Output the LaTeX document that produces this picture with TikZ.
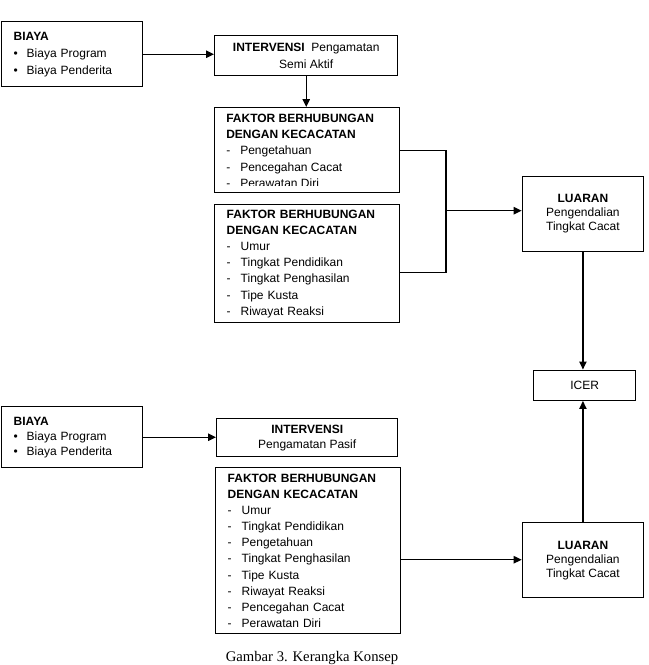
\documentclass[tikz,border=0pt]{standalone}
\usepackage{fontspec}
\setmainfont{Liberation Sans}
\newfontfamily\capfont{Liberation Serif}
\usetikzlibrary{arrows.meta,positioning}
\newcommand{\butir}[1]{\makebox[9.75pt][l]{\textbullet}#1}
\newcommand{\strip}[1]{\makebox[10.5pt][l]{-}#1}
\tikzset{
  kotak/.style={draw,line width=1.1pt,anchor=north west,inner ysep=0pt,inner xsep=9pt,align=left},
  kotakc/.style={draw,line width=1.1pt,anchor=north west,inner sep=0pt,align=center},
  panah/.style={-{Triangle[length=6pt,width=5.5pt]},line width=1.1pt},
  garis/.style={line width=1.1pt},
}

\begin{document}
\begin{tikzpicture}[x=0.75pt,y=-0.75pt]
\useasboundingbox (0,0) rectangle (649,665);
\node[kotak,text width=87.75pt,minimum width=105.75pt,minimum height=48.75pt,font=\fontsize{9}{12.75}\selectfont] (biaya1) at (1,21) {\textbf{BIAYA}\\\butir{Biaya Program}\\\butir{Biaya Penderita}};
\node[kotakc,minimum width=137.25pt,minimum height=30pt,font=\fontsize{9}{12.75}\selectfont] (interv1) at (214,35) {\textbf{INTERVENSI}\ \ Pengamatan\\Semi Aktif};
\node[kotak,minimum width=138.75pt,minimum height=63.75pt] (faktor1) at (214,107) {};
\begin{scope}
\clip (214,107) rectangle (399,185);
\node[anchor=north west,inner sep=0pt,align=left,font=\fontsize{9}{12.2}\selectfont] (isi1) at (226,113.7) {\textbf{FAKTOR BERHUBUNGAN}\\\textbf{DENGAN KECACATAN}\\\strip{Pengetahuan}\\\strip{Pencegahan Cacat}\\\strip{Perawatan Diri}};
\end{scope}
\node[kotak,text width=120.75pt,minimum width=138.75pt,minimum height=88.5pt,font=\fontsize{9}{12.15}\selectfont] (faktor2) at (214,204) {\textbf{FAKTOR BERHUBUNGAN}\\\textbf{DENGAN KECACATAN}\\\strip{Umur}\\\strip{Tingkat Pendidikan}\\\strip{Tingkat Penghasilan}\\\strip{Tipe Kusta}\\\strip{Riwayat Reaksi}};
\node[kotakc,minimum width=90.75pt,minimum height=56.25pt,font=\fontsize{9}{10.5}\selectfont] (luaran1) at (521.7,175.7) {\textbf{LUARAN}\\Pengendalian\\Tingkat Cacat};
\node[kotakc,minimum width=76.5pt,minimum height=22.5pt,font=\fontsize{9}{11}\selectfont] (icer) at (533,369.5) {ICER};
\node[kotak,text width=87.75pt,minimum width=105.75pt,minimum height=45.75pt,font=\fontsize{9}{11.25}\selectfont] (biaya2) at (1,406) {\textbf{BIAYA}\\\butir{Biaya Program}\\\butir{Biaya Penderita}};
\node[kotakc,minimum width=135.75pt,minimum height=28.5pt,font=\fontsize{9}{11.25}\selectfont] (interv2) at (216,418) {\textbf{INTERVENSI}\\Pengamatan Pasif};
\node[kotak,text width=120.75pt,minimum width=138.75pt,minimum height=124.5pt,font=\fontsize{9}{12.1}\selectfont] (faktor3) at (215,467) {\textbf{FAKTOR BERHUBUNGAN}\\\textbf{DENGAN KECACATAN}\\\strip{Umur}\\\strip{Tingkat Pendidikan}\\\strip{Pengetahuan}\\\strip{Tingkat Penghasilan}\\\strip{Tipe Kusta}\\\strip{Riwayat Reaksi}\\\strip{Pencegahan Cacat}\\\strip{Perawatan Diri}};
\node[kotakc,minimum width=90.75pt,minimum height=56.25pt,font=\fontsize{9}{10.5}\selectfont] (luaran2) at (521.7,522) {\textbf{LUARAN}\\Pengendalian\\Tingkat Cacat};
\node[anchor=south,inner sep=0pt,font=\capfont\fontsize{11}{13}\selectfont] (judul) at (312,664.5) {Gambar 3. Kerangka Konsep};
\coordinate (siku) at (446,210.7);
\coordinate (f3out) at ([yshift=-6.75pt]faktor3.east);
\draw[panah] (biaya1.east) -- (biaya1.east -| interv1.west);
\draw[panah] (interv1.south) -- (interv1.south |- faktor1.north);
\draw[garis] (faktor1.east) -| (siku) |- ([yshift=-6.75pt]faktor2.east);
\draw[panah] (siku) -- (siku -| luaran1.west);
\draw[panah] (luaran1.south) -- (luaran1.south |- icer.north);
\draw[panah] (biaya2.east) -- (biaya2.east -| interv2.west);
\draw[panah] (f3out) -- (f3out -| luaran2.west);
\draw[panah] (luaran2.north) -- (luaran2.north |- icer.south);
\end{tikzpicture}
\end{document}
